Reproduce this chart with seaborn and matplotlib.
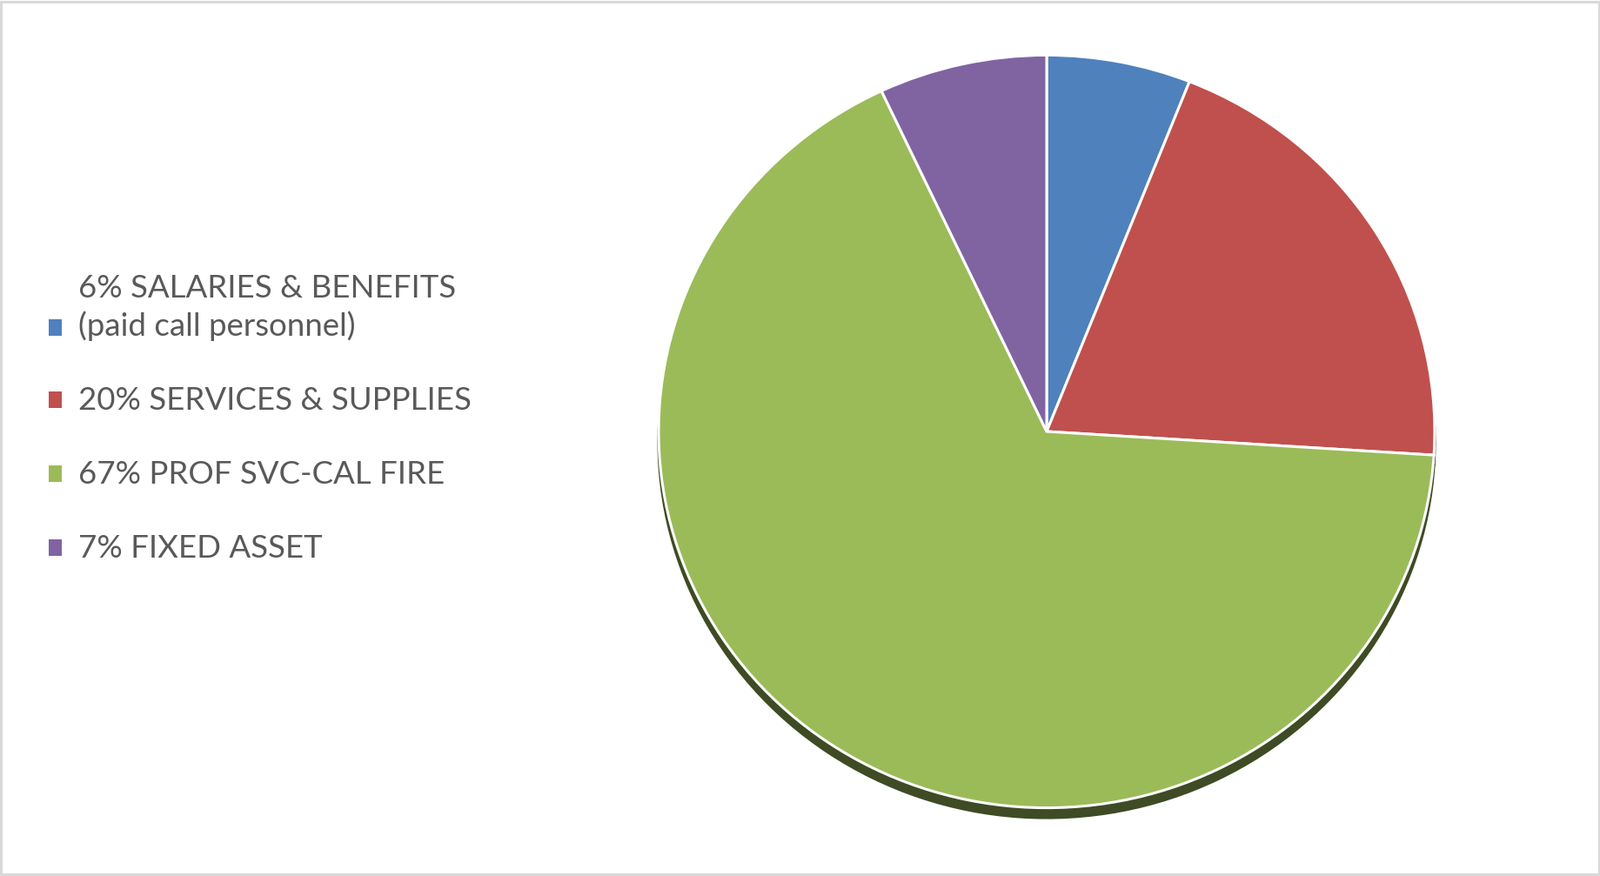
import matplotlib
matplotlib.use("Agg")
import matplotlib.pyplot as plt
from matplotlib.patches import Patch, Rectangle
from matplotlib.legend_handler import HandlerPatch
import seaborn as sns

# ---- data ----
categories = ["6% SALARIES & BENEFITS\n(paid call personnel)",
              "20% SERVICES & SUPPLIES",
              "67% PROF SVC-CAL FIRE",
              "7% FIXED ASSET"]
shares = [6, 20, 67, 7]
colors = ["#4F81BD", "#C0504D", "#9BBB59", "#8064A2"]

sns.set_theme(style="white")
plt.rcParams["font.family"] = ["Lato", "DejaVu Sans"]

W, H = 1839, 1007
FS = 26.4
fig = plt.figure(figsize=(W / 100, H / 100), dpi=100)
fig.patch.set_facecolor("white")

# slight perspective squash of the pie (vertical / horizontal)
k = 1 / 0.97
ax = fig.add_axes([0, 0, 1, 1])
ax.axis("off")

wedges, _ = ax.pie(shares, colors=colors, startangle=90, counterclock=False,
                   center=(1203, (H - 496) * k), radius=446,
                   wedgeprops=dict(edgecolor="white", linewidth=2.2),
                   shadow=dict(ox=0, oy=-8.5, shade=0.6, alpha=1.0))
ax.set_aspect("auto")
ax.set_xlim(0, W)
ax.set_ylim(0, H * k)


class LowHandle(HandlerPatch):
    """Square marker; for two-line labels it sits next to the second line."""
    def __init__(self, shift=0.0, **kw):
        super().__init__(**kw)
        self.shift = shift

    def create_artists(self, legend, orig_handle, xdescent, ydescent,
                       width, height, fontsize, trans):
        p = Rectangle((-xdescent, -ydescent - self.shift * fontsize), width, height,
                      facecolor=orig_handle.get_facecolor(), edgecolor="none",
                      transform=trans)
        return [p]


handles = [Patch(facecolor=c, edgecolor="none") for c in colors]
handler_map = {handles[0]: LowHandle(shift=0.62)}
for h in handles[1:]:
    handler_map[h] = LowHandle(shift=0.05)

leg = fig.legend(handles, categories, loc="center left",
                 bbox_to_anchor=(56 / W, 1 - 481 / H),
                 frameon=False, fontsize=FS, handlelength=0.42, handleheight=0.42,
                 handletextpad=0.5, labelspacing=1.42, borderpad=0, borderaxespad=0,
                 labelcolor="#595959", handler_map=handler_map)
for t in leg.get_texts():
    t.set_linespacing(1.3)

# frame border
fig.add_artist(Rectangle((0.0008, 0.0015), 0.9984, 0.997, transform=fig.transFigure,
                         fill=False, edgecolor="#D9D9D9", linewidth=2.2))

fig.savefig("out.png", dpi=100)
